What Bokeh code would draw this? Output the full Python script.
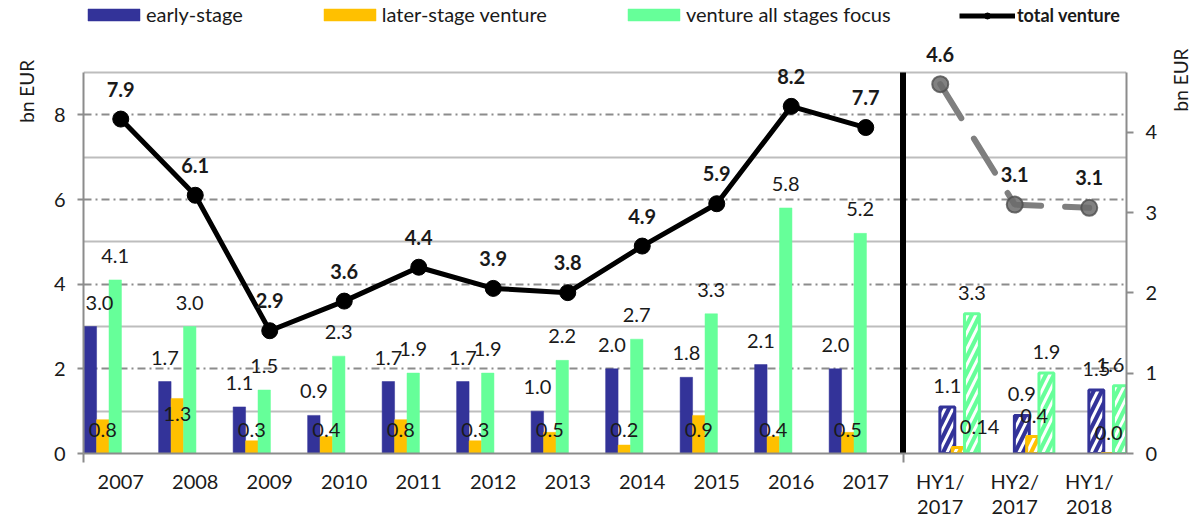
import numpy as np
from math import pi
from bokeh.plotting import figure
from bokeh.models import (ColumnDataSource, Range1d, LinearAxis, FixedTicker, LabelSet,
                          Legend, LegendItem)
from bokeh.core.properties import value
from bokeh.embed import file_html
from bokeh.resources import INLINE

# ---------------- data ----------------
years = ["2007", "2008", "2009", "2010", "2011", "2012", "2013", "2014", "2015", "2016", "2017"]
half_years = ["HY1/\n2017", "HY2/\n2017", "HY1/\n2018"]
early_stage = [3.0, 1.7, 1.1, 0.9, 1.7, 1.7, 1.0, 2.0, 1.8, 2.1, 2.0]
later_stage = [0.8, 1.3, 0.3, 0.4, 0.8, 0.3, 0.5, 0.2, 0.9, 0.4, 0.5]
all_stages = [4.1, 3.0, 1.5, 2.3, 1.9, 1.9, 2.2, 2.7, 3.3, 5.8, 5.2]
total_venture = [7.9, 6.1, 2.9, 3.6, 4.4, 3.9, 3.8, 4.9, 5.9, 8.2, 7.7]
hy_early = [1.1, 0.9, 1.5]
hy_later = [0.14, 0.4, 0.0]
hy_all = [3.3, 1.9, 1.6]
hy_total = [4.6, 3.1, 3.06]

# ---------------- style ----------------
BLUE = "#333399"
YELLOW = "#FFC000"
GREEN = "#66FF99"
TXT = "#1a1a1a"
AXC = "#8c8c8c"
FONT = "Lato"
FRAME_W = 1043
FRAME_H = 453          # frame reaches the top of the canvas
PLOT_H = 381           # height of the gridded area (0..LEFT_MAX)
LEFT_MAX = 9.0
RIGHT_MAX = 4.745
Y_TOP = LEFT_MAX * FRAME_H / PLOT_H
YR_TOP = RIGHT_MAX * FRAME_H / PLOT_H
PX = LEFT_MAX / PLOT_H  # data units per pixel (left axis)


def f1(v):
    return f"{v:.1f}"


def f2(v):
    return f"{v:.1f}" if round(v, 1) == v else f"{v:.2f}"


n = len(years)
m = len(half_years)
NX = n + m
SLOT = FRAME_W / NX
xi = np.arange(n, dtype=float)
hx = n + np.arange(m, dtype=float)

p = figure(frame_width=FRAME_W, frame_height=FRAME_H, output_backend="svg", toolbar_location=None,
           x_range=Range1d(0, NX), y_range=Range1d(0, Y_TOP),
           min_border_left=82, min_border_right=78, min_border_top=0, min_border_bottom=60)
p.extra_y_ranges = {"right": Range1d(0, YR_TOP)}
p.background_fill_color = "white"
p.border_fill_color = "white"
p.outline_line_color = None

# grid
p.xgrid.visible = False
p.ygrid.ticker = FixedTicker(ticks=[2, 4, 6, 8], minor_ticks=[1, 3, 5, 7, 9])
p.ygrid.grid_line_color = AXC
p.ygrid.grid_line_width = 2
p.ygrid.grid_line_dash = "8 4 2 4"
p.ygrid.minor_grid_line_color = "#bdbdbd"
p.ygrid.minor_grid_line_width = 2

# x axis
centers = list(np.concatenate([xi, hx]) + 0.5)
labels = years + half_years
xa = p.xaxis[0]
xa.ticker = FixedTicker(ticks=centers, minor_ticks=[0, n])
xa.major_label_overrides = {c: l for c, l in zip(centers, labels)}
xa.major_tick_out = 0
xa.major_tick_in = 0
xa.minor_tick_out = 9
xa.minor_tick_in = 0
xa.minor_tick_line_color = AXC
xa.minor_tick_line_width = 2
xa.axis_line_color = AXC
xa.axis_line_width = 2
xa.major_label_standoff = 6
xa.major_label_text_font = FONT
xa.major_label_text_font_size = "20px"
xa.major_label_text_color = TXT
xa.major_label_text_line_height = 1.05


def style_y(ax, tick_out):
    ax.major_tick_out = tick_out
    ax.major_tick_in = 0
    ax.minor_tick_out = 0
    ax.minor_tick_in = 0
    ax.major_tick_line_color = AXC
    ax.major_tick_line_width = 2
    ax.axis_line_color = AXC
    ax.axis_line_width = 2
    ax.major_label_standoff = 12
    ax.major_label_text_font = FONT
    ax.major_label_text_font_size = "20px"
    ax.major_label_text_color = TXT


ya = p.yaxis[0]
ya.ticker = FixedTicker(ticks=[0, 2, 4, 6, 8])
ya.bounds = (0, LEFT_MAX)
style_y(ya, 6)

ra = LinearAxis(y_range_name="right", ticker=FixedTicker(ticks=[0, 1, 2, 3, 4]), bounds=(0, RIGHT_MAX))
style_y(ra, 7)
p.add_layout(ra, "right")


# "bn EUR" titles as rotated labels of plain outer axes
def title_axis(pos, standoff):
    ax = LinearAxis(ticker=FixedTicker(ticks=[pos]), major_label_overrides={pos: "bn EUR"},
                    major_label_orientation=pi / 2)
    ax.axis_line_color = None
    ax.major_tick_line_color = None
    ax.minor_tick_line_color = None
    ax.major_tick_out = 0
    ax.minor_tick_out = 0
    ax.major_label_standoff = standoff
    ax.major_label_text_font = FONT
    ax.major_label_text_font_size = "19px"
    ax.major_label_text_color = TXT
    return ax


p.add_layout(title_axis(9.3, 24), "left")
p.add_layout(title_axis(8.08, 20), "right")

# ---------------- bars (yearly) ----------------
W = 0.167
off = [0.092, 0.259, 0.426]
b1 = p.vbar(x=xi + off[0], top=early_stage, width=W, bottom=0, fill_color=BLUE, line_color=BLUE, line_width=0.5)
b2 = p.vbar(x=xi + off[1], top=later_stage, width=W, bottom=0, fill_color=YELLOW, line_color=YELLOW, line_width=0.5)
b3 = p.vbar(x=xi + off[2], top=all_stages, width=W, bottom=0, fill_color=GREEN, line_color=GREEN, line_width=0.5)

# ---------------- bars (half years, hatched) ----------------
HW = 0.2
hoff = [0.595, 0.76, 0.925]
for vals, o, c in [(hy_early, hoff[0], BLUE), (hy_later, hoff[1], YELLOW), (hy_all, hoff[2], GREEN)]:
    p.vbar(x=hx + o, top=vals, width=HW, bottom=0, fill_color=c, line_color=c, line_width=3,
           hatch_pattern="/", hatch_color="white", hatch_weight=3, hatch_scale=16)

# separator between yearly and half-year data
p.segment(x0=[n], y0=[0], x1=[n], y1=[LEFT_MAX], line_color="black", line_width=6)

# ---------------- lines ----------------
lx = xi + 0.5
l1 = p.line(lx, total_venture, line_color="black", line_width=5)
s1 = p.scatter(lx, total_venture, size=16, fill_color="black", line_color="black")

hlx = hx + 0.5
p.line(hlx, hy_total, y_range_name="right", line_color="#7f7f7f", line_width=6,
       line_dash="40 24", line_cap="round")
p.scatter(hlx, hy_total, y_range_name="right", size=16, fill_color="#6b6b6b", fill_alpha=0.85,
          line_color="#4d4d4d", line_alpha=0.8, line_width=2)


# ---------------- labels ----------------
def keep_inside(xs, half=15):
    dx = []
    for x in xs:
        sx = x * SLOT
        if sx - half < 1:
            dx.append(half + 1 - sx)
        elif sx + half > FRAME_W - 1:
            dx.append(FRAME_W - 1 - half - sx)
        else:
            dx.append(0)
    return dx


def add_labels(xs, ys, texts, y_off, x_off=None, bold=False, y_range_name="default"):
    xs = list(xs)
    if x_off is None:
        x_off = [0] * len(xs)
    x_off = [a + b for a, b in zip(x_off, keep_inside(xs))]
    s = ColumnDataSource(dict(x=xs, y=list(ys), t=list(texts), dx=x_off))
    kw = dict(y_range_name=y_range_name) if y_range_name != "default" else {}
    ls = LabelSet(x="x", y="y", text="t", source=s, x_offset="dx", y_offset=y_off,
                  text_align="center", text_baseline="middle", text_font=value(FONT),
                  text_font_size="20px", text_color=TXT,
                  text_font_style="bold" if bold else "normal", **kw)
    p.add_layout(ls)


add_labels(xi + off[0], early_stage, [f1(v) for v in early_stage], 24)
add_labels(xi + off[2], all_stages, [f1(v) for v in all_stages], 24)
later_y = np.maximum(np.array(later_stage) - 16 * PX, 24 * PX)  # inside end, kept above the axis
add_labels(xi + off[1], later_y, [f1(v) for v in later_stage], 0)

add_labels(hx + hoff[0], hy_early, [f1(v) for v in hy_early], 21)
add_labels(hx + hoff[2], hy_all, [f1(v) for v in hy_all], 21)
hy_later_dx = [20, 0, 0]
add_labels(hx + hoff[1], hy_later, [f2(v) for v in hy_later], 21, x_off=hy_later_dx)

add_labels(lx, total_venture, [f1(v) for v in total_venture], 30, bold=True)
add_labels(hlx, hy_total, [f1(v) for v in hy_total], 30, bold=True, y_range_name="right")

# ---------------- legends ----------------
leg1 = Legend(items=[LegendItem(label="early-stage", renderers=[b1]),
                     LegendItem(label="later-stage venture", renderers=[b2]),
                     LegendItem(label="venture all stages focus", renderers=[b3])],
              orientation="horizontal", location=(-2, 427), glyph_width=65, glyph_height=15,
              label_standoff=0, spacing=74, padding=0, margin=0, border_line_color=None,
              background_fill_alpha=0, label_text_font=FONT, label_text_font_size="20px",
              label_text_color=TXT, label_height=22)
leg2 = Legend(items=[LegendItem(label="total venture", renderers=[l1, s1])],
              orientation="horizontal", location=(876, 427), glyph_width=56, glyph_height=15,
              label_standoff=2, spacing=0, padding=0, margin=0, border_line_color=None,
              background_fill_alpha=0, label_text_font=FONT, label_text_font_size="18px",
              label_text_font_style="bold", label_text_color=TXT, label_height=22)
p.add_layout(leg1)
p.add_layout(leg2)

open("out.html", "w").write(file_html(p, INLINE))
